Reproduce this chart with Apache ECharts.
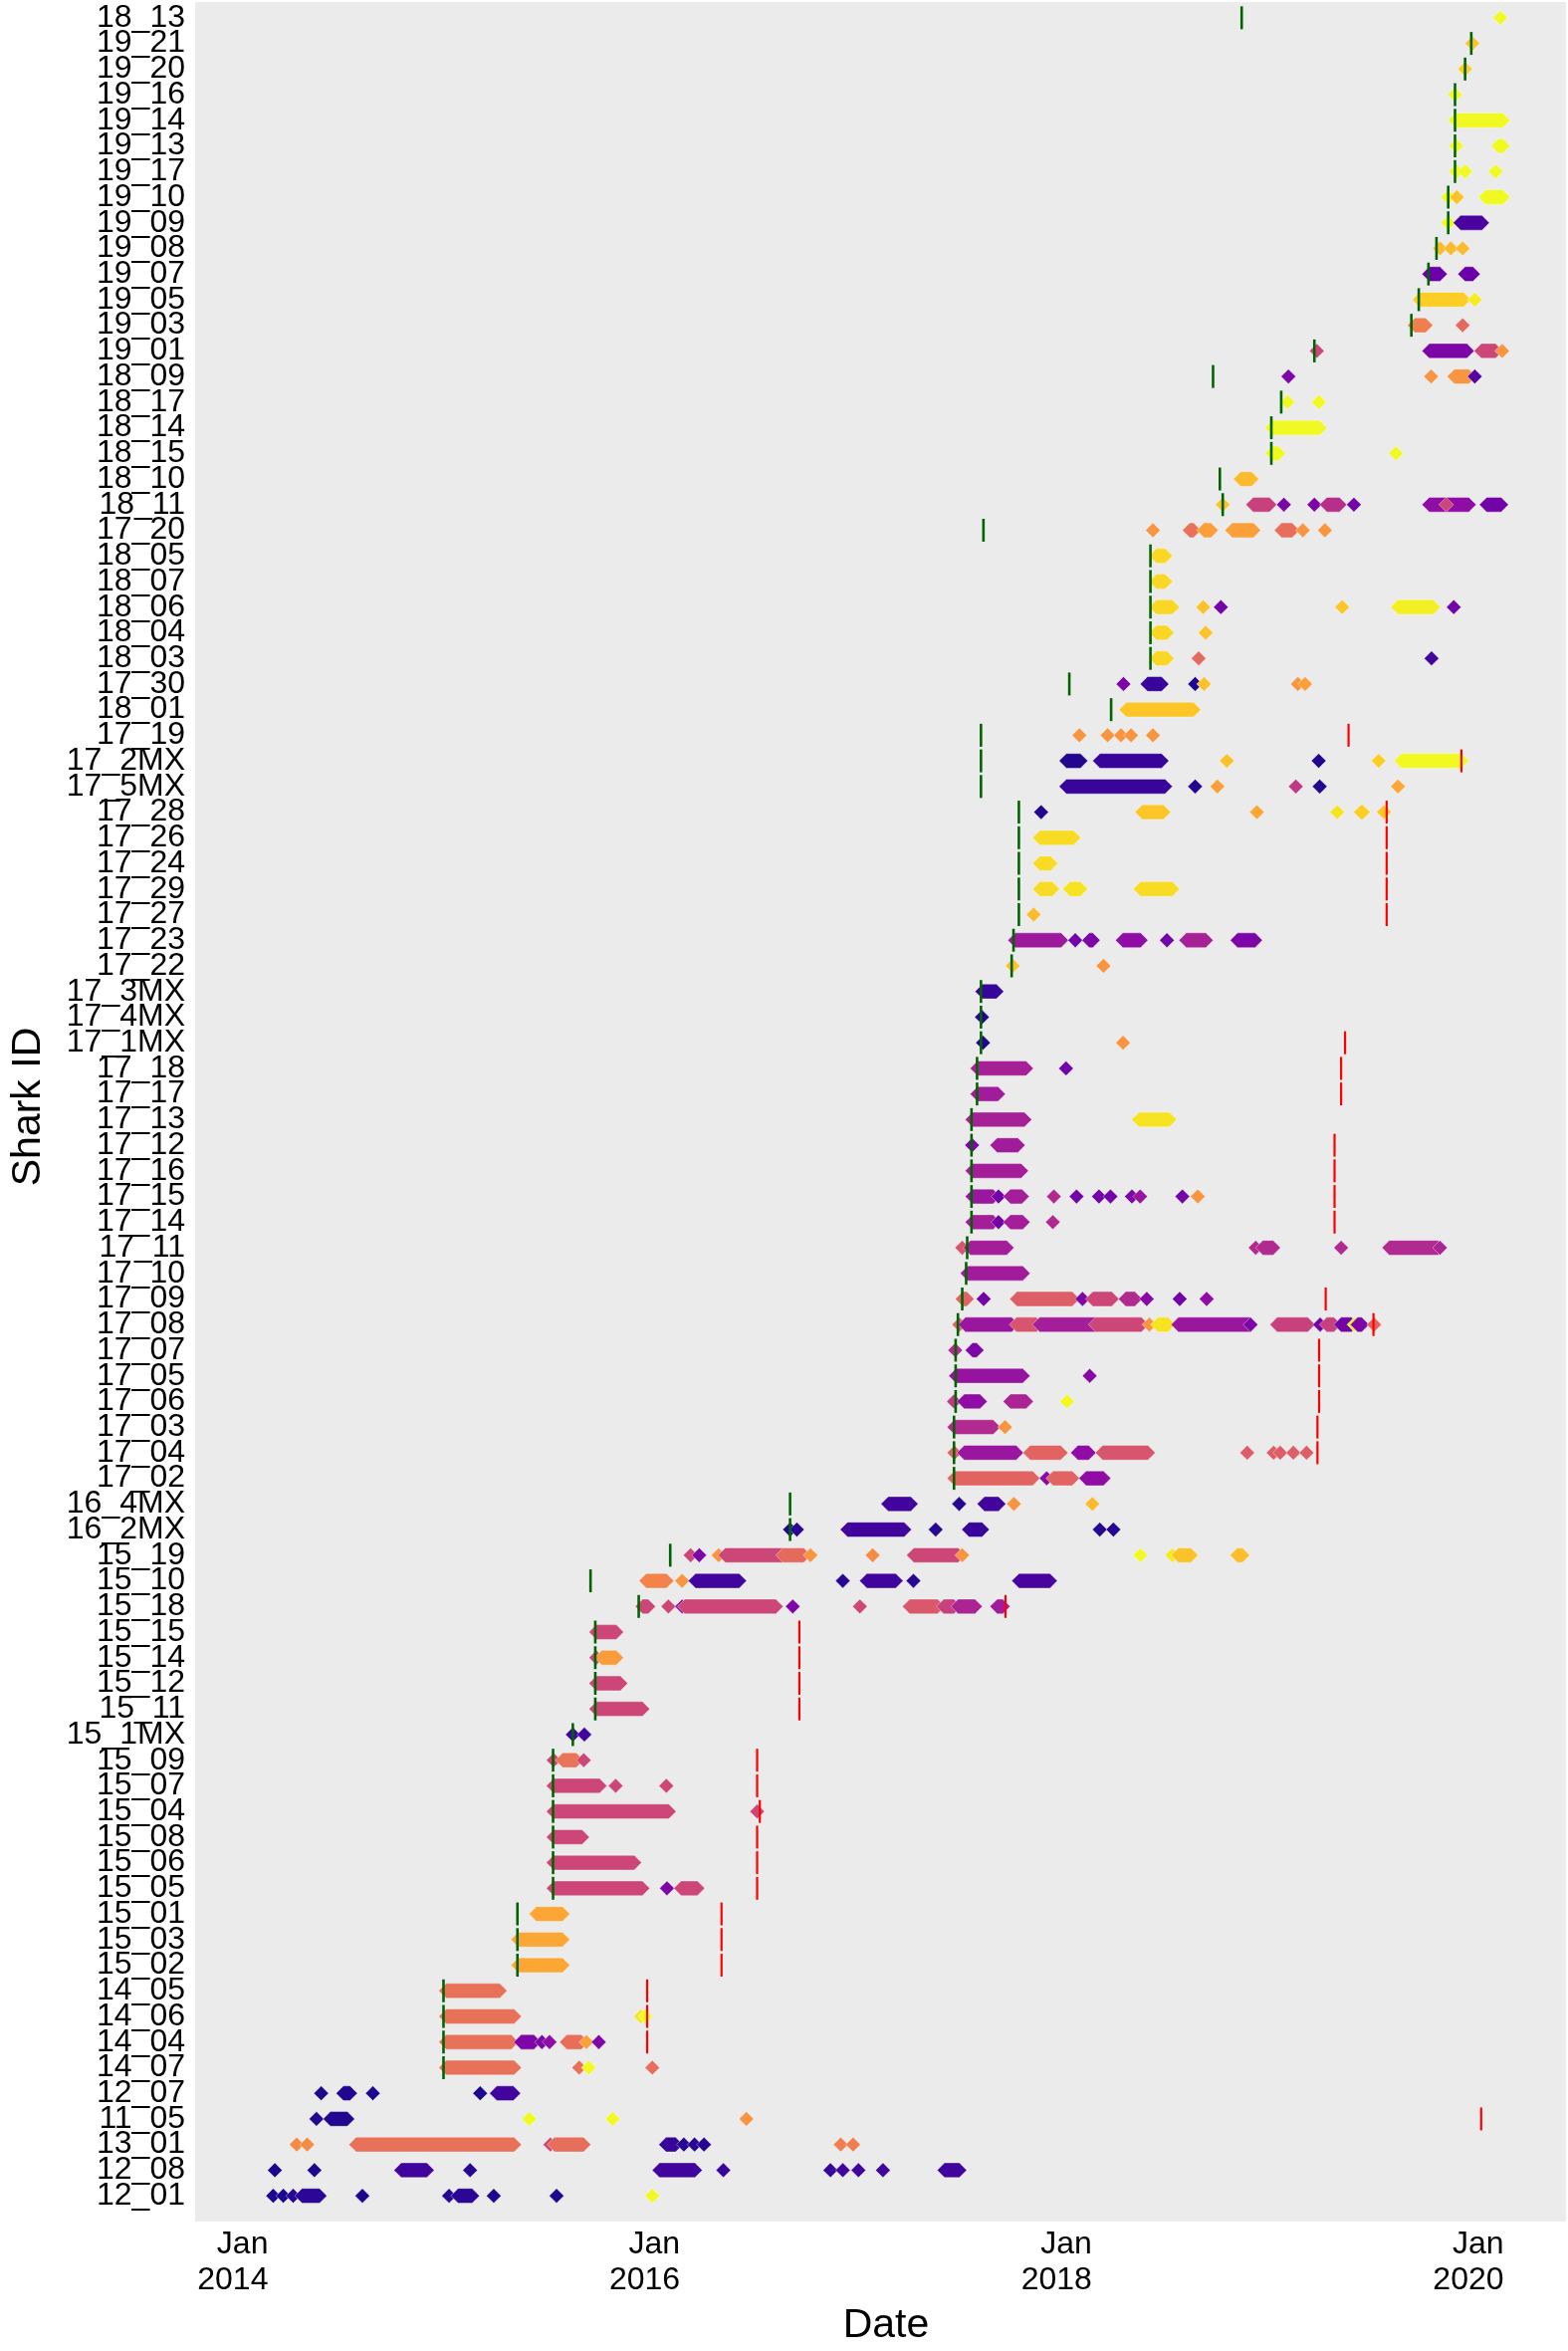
<!DOCTYPE html>
<html>
<head>
<meta charset="utf-8">
<script src="https://cdn.jsdelivr.net/npm/echarts@6/dist/echarts.min.js"></script>
<style>
  html, body { margin: 0; padding: 0; background: #fff; }
  #chart { width: 1575px; height: 2361px; }
</style>
</head>
<body>
<div id="chart"></div>
<script>
// shark ids, bottom row first
const sharkIds = [
  '12_01', '12_08', '13_01', '11_05', '12_07', '14_07', '14_04', '14_06', '14_05',
  '15_02', '15_03', '15_01', '15_05', '15_06', '15_08', '15_04', '15_07', '15_09',
  '15_1MX', '15_11', '15_12', '15_14', '15_15', '15_18', '15_10', '15_19',
  '16_2MX', '16_4MX', '17_02', '17_04', '17_03', '17_06', '17_05', '17_07', '17_08',
  '17_09', '17_10', '17_11', '17_14', '17_15', '17_16', '17_12', '17_13', '17_17',
  '17_18', '17_1MX', '17_4MX', '17_3MX', '17_22', '17_23', '17_27', '17_29', '17_24',
  '17_26', '17_28', '17_5MX', '17_2MX', '17_19', '18_01', '17_30', '18_03', '18_04',
  '18_06', '18_07', '18_05', '17_20', '18_11', '18_10', '18_15', '18_14', '18_17',
  '18_09', '19_01', '19_03', '19_05', '19_07', '19_08', '19_09', '19_10', '19_17',
  '19_13', '19_14', '19_16', '19_20', '19_21', '18_13'
];

const tickYears = [2014, 2016, 2018, 2020];

// plasma palette
const plasma = ['#0d0887', '#41049d', '#6a00a8', '#8f0da4', '#b12a90', '#cc4778',
  '#e16462', '#f2844b', '#fca636', '#fcce25', '#f0f921'];

// detections: [shark, first date, last date, colour value 0..1] (dates in decimal years)
const detections = [
  ['12_01', 2014.024, 2014.024, .03], ['12_01', 2014.073, 2014.073, .03], ['12_01', 2014.121, 2014.121, .05],
  ['12_01', 2014.164, 2014.249, .06], ['12_01', 2014.457, 2014.457, .03], ['12_01', 2014.878, 2014.878, .05],
  ['12_01', 2014.922, 2014.990, .06], ['12_01', 2015.095, 2015.095, .03], ['12_01', 2015.400, 2015.400, .03],
  ['12_01', 2015.865, 2015.865, 1],
  ['12_08', 2014.032, 2014.032, .03], ['12_08', 2014.224, 2014.224, .03], ['12_08', 2014.646, 2014.770, .1],
  ['12_08', 2014.980, 2014.980, .05], ['12_08', 2015.900, 2016.072, .1], ['12_08', 2016.210, 2016.210, .08],
  ['12_08', 2016.730, 2016.730, .08], ['12_08', 2016.790, 2016.790, .1], ['12_08', 2016.866, 2016.866, .1],
  ['12_08', 2016.985, 2016.985, .1], ['12_08', 2017.284, 2017.356, .1],
  ['13_01', 2014.138, 2014.138, .72], ['13_01', 2014.189, 2014.189, .72], ['13_01', 2014.427, 2015.194, .64],
  ['13_01', 2015.370, 2015.370, .5], ['13_01', 2015.390, 2015.531, .63], ['13_01', 2015.932, 2015.978, .08],
  ['13_01', 2016.018, 2016.018, .05], ['13_01', 2016.070, 2016.070, .05], ['13_01', 2016.116, 2016.116, .05],
  ['13_01', 2016.780, 2016.780, .68], ['13_01', 2016.840, 2016.840, .68],
  ['11_05', 2014.234, 2014.234, .04], ['11_05', 2014.302, 2014.384, .04], ['11_05', 2015.268, 2015.268, 1],
  ['11_05', 2015.672, 2015.672, 1], ['11_05', 2016.322, 2016.322, .75],
  ['12_07', 2014.257, 2014.257, .03], ['12_07', 2014.365, 2014.397, .04], ['12_07', 2014.508, 2014.508, .03],
  ['12_07', 2015.029, 2015.029, .03], ['12_07', 2015.110, 2015.190, .1],
  ['14_07', 2014.864, 2015.194, .64], ['14_07', 2015.510, 2015.510, .64], ['14_07', 2015.556, 2015.556, 1],
  ['14_07', 2015.865, 2015.865, .63],
  ['14_04', 2014.864, 2015.180, .64], ['14_04', 2015.228, 2015.290, .25], ['14_04', 2015.329, 2015.329, .25],
  ['14_04', 2015.366, 2015.366, .3], ['14_04', 2015.450, 2015.520, .63], ['14_04', 2015.545, 2015.545, .78],
  ['14_04', 2015.605, 2015.605, .25],
  ['14_06', 2014.864, 2015.194, .64], ['14_06', 2015.810, 2015.810, .95], ['14_06', 2015.830, 2015.830, 1],
  ['14_05', 2014.864, 2015.124, .64],
  ['15_02', 2015.214, 2015.429, .8], ['15_03', 2015.214, 2015.429, .8], ['15_01', 2015.302, 2015.429, .8],
  ['15_05', 2015.386, 2015.817, .5], ['15_05', 2015.936, 2015.936, .25], ['15_05', 2016.005, 2016.084, .5],
  ['15_06', 2015.386, 2015.777, .5], ['15_08', 2015.386, 2015.524, .5],
  ['15_04', 2015.386, 2015.945, .5], ['15_04', 2016.374, 2016.374, .5],
  ['15_07', 2015.386, 2015.609, .5], ['15_07', 2015.687, 2015.687, .5], ['15_07', 2015.933, 2015.933, .5],
  ['15_09', 2015.386, 2015.386, .5], ['15_09', 2015.430, 2015.496, .65], ['15_09', 2015.532, 2015.532, .5],
  ['15_1MX', 2015.479, 2015.479, .1], ['15_1MX', 2015.535, 2015.535, .1],
  ['15_11', 2015.593, 2015.817, .5], ['15_12', 2015.593, 2015.710, .5],
  ['15_14', 2015.593, 2015.593, .5], ['15_14', 2015.620, 2015.690, .77], ['15_15', 2015.593, 2015.690, .5],
  ['15_18', 2015.818, 2015.845, .5], ['15_18', 2015.943, 2015.943, .5], ['15_18', 2016.010, 2016.010, .3],
  ['15_18', 2016.023, 2016.465, .5], ['15_18', 2016.547, 2016.547, .25], ['15_18', 2016.873, 2016.873, .5],
  ['15_18', 2017.115, 2017.250, .56], ['15_18', 2017.280, 2017.330, .48], ['15_18', 2017.350, 2017.432, .38],
  ['15_18', 2017.540, 2017.567, .35],
  ['15_10', 2015.836, 2015.934, .7], ['15_10', 2016.010, 2016.010, .75], ['15_10', 2016.075, 2016.287, .1],
  ['15_10', 2016.790, 2016.790, .05], ['15_10', 2016.907, 2017.047, .1], ['15_10', 2017.133, 2017.133, .05],
  ['15_10', 2017.646, 2017.796, .12],
  ['15_19', 2016.051, 2016.051, .5], ['15_19', 2016.093, 2016.093, .25], ['15_19', 2016.187, 2016.187, .75],
  ['15_19', 2016.220, 2016.500, .5], ['15_19', 2016.500, 2016.600, .62], ['15_19', 2016.633, 2016.633, .75],
  ['15_19', 2016.935, 2016.935, .72], ['15_19', 2017.135, 2017.350, .5], ['15_19', 2017.370, 2017.370, .75],
  ['15_19', 2018.235, 2018.235, 1], ['15_19', 2018.390, 2018.390, .97], ['15_19', 2018.420, 2018.480, .87],
  ['15_19', 2018.706, 2018.731, .86],
  ['16_2MX', 2016.534, 2016.534, .03], ['16_2MX', 2016.567, 2016.567, .05], ['16_2MX', 2016.813, 2017.088, .1],
  ['16_2MX', 2017.241, 2017.241, .05], ['16_2MX', 2017.403, 2017.466, .08], ['16_2MX', 2018.038, 2018.038, .05],
  ['16_2MX', 2018.104, 2018.104, .05],
  ['16_4MX', 2017.011, 2017.120, .1], ['16_4MX', 2017.355, 2017.355, .05], ['16_4MX', 2017.478, 2017.546, .1],
  ['16_4MX', 2017.621, 2017.621, .75], ['16_4MX', 2018.002, 2018.002, .85],
  ['17_02', 2017.332, 2017.712, .6], ['17_02', 2017.780, 2017.780, .28], ['17_02', 2017.812, 2017.904, .6],
  ['17_02', 2017.972, 2018.056, .3],
  ['17_04', 2017.332, 2017.332, .58], ['17_04', 2017.380, 2017.632, .33], ['17_04', 2017.700, 2017.848, .6],
  ['17_04', 2017.932, 2017.984, .3], ['17_04', 2018.052, 2018.272, .55], ['17_04', 2018.754, 2018.754, .58],
  ['17_04', 2018.882, 2018.882, .58], ['17_04', 2018.914, 2018.914, .58], ['17_04', 2018.978, 2018.978, .58],
  ['17_04', 2019.042, 2019.042, .58],
  ['17_03', 2017.332, 2017.520, .4], ['17_03', 2017.578, 2017.578, .75],
  ['17_06', 2017.330, 2017.330, .45], ['17_06', 2017.380, 2017.456, .3], ['17_06', 2017.604, 2017.680, .38],
  ['17_06', 2017.879, 2017.879, 1],
  ['17_05', 2017.340, 2017.664, .32], ['17_05', 2017.989, 2017.989, .28],
  ['17_07', 2017.336, 2017.336, .4], ['17_07', 2017.420, 2017.440, .25],
  ['17_08', 2017.356, 2017.356, .6], ['17_08', 2017.386, 2017.610, .33], ['17_08', 2017.634, 2017.730, .55],
  ['17_08', 2017.746, 2018.018, .36], ['17_08', 2018.018, 2018.240, .5], ['17_08', 2018.279, 2018.279, .75],
  ['17_08', 2018.320, 2018.370, .95], ['17_08', 2018.420, 2018.768, .33], ['17_08', 2018.770, 2018.770, .25],
  ['17_08', 2018.900, 2019.048, .48], ['17_08', 2019.108, 2019.108, .22], ['17_08', 2019.140, 2019.175, .48],
  ['17_08', 2019.210, 2019.260, .22], ['17_08', 2019.274, 2019.274, 1], ['17_08', 2019.290, 2019.310, .25],
  ['17_08', 2019.370, 2019.370, .6],
  ['17_09', 2017.372, 2017.392, .6], ['17_09', 2017.474, 2017.474, .22], ['17_09', 2017.636, 2017.904, .58],
  ['17_09', 2017.954, 2017.954, .25], ['17_09', 2018.004, 2018.096, .5], ['17_09', 2018.164, 2018.208, .4],
  ['17_09', 2018.266, 2018.266, .28], ['17_09', 2018.426, 2018.426, .22], ['17_09', 2018.557, 2018.557, .3],
  ['17_10', 2017.396, 2017.664, .35],
  ['17_11', 2017.370, 2017.370, .55], ['17_11', 2017.410, 2017.586, .36], ['17_11', 2018.795, 2018.795, .4],
  ['17_11', 2018.830, 2018.880, .4], ['17_11', 2019.210, 2019.210, .4], ['17_11', 2019.444, 2019.680, .4],
  ['17_11', 2019.690, 2019.690, .38],
  ['17_14', 2017.420, 2017.520, .36], ['17_14', 2017.546, 2017.546, .22], ['17_14', 2017.604, 2017.664, .36],
  ['17_14', 2017.810, 2017.810, .4],
  ['17_15', 2017.420, 2017.520, .33], ['17_15', 2017.546, 2017.546, .22], ['17_15', 2017.604, 2017.660, .36],
  ['17_15', 2017.815, 2017.815, .4], ['17_15', 2017.925, 2017.925, .22], ['17_15', 2018.034, 2018.034, .22],
  ['17_15', 2018.090, 2018.090, .22], ['17_15', 2018.194, 2018.194, .25], ['17_15', 2018.234, 2018.234, .33],
  ['17_15', 2018.439, 2018.439, .22], ['17_15', 2018.514, 2018.514, .75],
  ['17_16', 2017.420, 2017.656, .36],
  ['17_12', 2017.418, 2017.418, .25], ['17_12', 2017.540, 2017.640, .35],
  ['17_13', 2017.420, 2017.672, .37], ['17_13', 2018.228, 2018.376, .95],
  ['17_17', 2017.444, 2017.544, .35],
  ['17_18', 2017.444, 2017.680, .37], ['17_18', 2017.874, 2017.874, .22],
  ['17_1MX', 2017.471, 2017.471, .04], ['17_1MX', 2018.151, 2018.151, .75],
  ['17_4MX', 2017.466, 2017.466, .04],
  ['17_3MX', 2017.468, 2017.536, .08],
  ['17_22', 2017.615, 2017.615, .87], ['17_22', 2018.056, 2018.056, .75],
  ['17_23', 2017.627, 2017.850, .34], ['17_23', 2017.919, 2017.919, .22], ['17_23', 2017.987, 2018.004, .25],
  ['17_23', 2018.150, 2018.236, .3], ['17_23', 2018.364, 2018.364, .22], ['17_23', 2018.458, 2018.553, .37],
  ['17_23', 2018.707, 2018.792, .25],
  ['17_27', 2017.717, 2017.717, .85],
  ['17_29', 2017.747, 2017.807, .93], ['17_29', 2017.893, 2017.944, .95], ['17_29', 2018.236, 2018.390, .93],
  ['17_24', 2017.747, 2017.799, .93],
  ['17_26', 2017.747, 2017.910, .93],
  ['17_28', 2017.753, 2017.753, .04], ['17_28', 2018.244, 2018.347, .88], ['17_28', 2018.801, 2018.801, .8],
  ['17_28', 2019.191, 2019.191, .95], ['17_28', 2019.306, 2019.315, .9], ['17_28', 2019.418, 2019.418, .88],
  ['17_5MX', 2017.876, 2018.355, .08], ['17_5MX', 2018.501, 2018.501, .04], ['17_5MX', 2018.609, 2018.609, .78],
  ['17_5MX', 2018.990, 2018.990, .45], ['17_5MX', 2019.106, 2019.106, .04], ['17_5MX', 2019.486, 2019.486, .8],
  ['17_2MX', 2017.876, 2017.944, .04], ['17_2MX', 2018.039, 2018.338, .08], ['17_2MX', 2018.655, 2018.655, .87],
  ['17_2MX', 2019.101, 2019.101, .04], ['17_2MX', 2019.392, 2019.392, .9], ['17_2MX', 2019.503, 2019.794, 1],
  ['17_19', 2017.939, 2017.939, .75], ['17_19', 2018.076, 2018.076, .75], ['17_19', 2018.141, 2018.141, .75],
  ['17_19', 2018.190, 2018.190, .75], ['17_19', 2018.296, 2018.296, .75],
  ['18_01', 2018.167, 2018.493, .88],
  ['17_30', 2018.153, 2018.153, .25], ['17_30', 2018.270, 2018.338, .08], ['17_30', 2018.501, 2018.501, .04],
  ['17_30', 2018.544, 2018.544, .87], ['17_30', 2019.000, 2019.000, .75], ['17_30', 2019.035, 2019.035, .78],
  ['18_03', 2018.313, 2018.364, .92], ['18_03', 2018.518, 2018.518, .62], ['18_03', 2019.649, 2019.649, .1],
  ['18_04', 2018.313, 2018.364, .92], ['18_04', 2018.552, 2018.552, .87],
  ['18_06', 2018.313, 2018.390, .92], ['18_06', 2018.540, 2018.540, .87], ['18_06', 2018.626, 2018.626, .22],
  ['18_06', 2019.215, 2019.215, .88], ['18_06', 2019.486, 2019.657, .98], ['18_06', 2019.757, 2019.757, .22],
  ['18_07', 2018.313, 2018.356, .92],
  ['18_05', 2018.313, 2018.356, .92],
  ['17_20', 2018.296, 2018.296, .75], ['17_20', 2018.475, 2018.493, .64], ['17_20', 2018.544, 2018.578, .78],
  ['17_20', 2018.681, 2018.784, .78], ['17_20', 2018.921, 2018.972, .63], ['17_20', 2019.024, 2019.024, .75],
  ['17_20', 2019.131, 2019.131, .75],
  ['18_11', 2018.635, 2018.635, .87], ['18_11', 2018.783, 2018.862, .48], ['18_11', 2018.932, 2018.932, .25],
  ['18_11', 2019.080, 2019.080, .25], ['18_11', 2019.141, 2019.202, .42], ['18_11', 2019.272, 2019.272, .22],
  ['18_11', 2019.638, 2019.830, .3], ['18_11', 2019.720, 2019.720, .5], ['18_11', 2019.917, 2019.987, .22],
  ['18_10', 2018.722, 2018.775, .85],
  ['18_15', 2018.876, 2018.905, 1], ['18_15', 2019.476, 2019.476, 1],
  ['18_14', 2018.876, 2019.106, 1],
  ['18_17', 2018.949, 2018.949, 1], ['18_17', 2019.102, 2019.102, 1],
  ['18_09', 2018.954, 2018.954, .25], ['18_09', 2019.647, 2019.647, .75], ['18_09', 2019.760, 2019.830, .75],
  ['18_09', 2019.859, 2019.859, .15],
  ['19_01', 2019.092, 2019.092, .5], ['19_01', 2019.638, 2019.821, .25], ['19_01', 2019.891, 2019.960, .5],
  ['19_01', 2019.992, 2019.992, .75],
  ['19_03', 2019.568, 2019.620, .68], ['19_03', 2019.800, 2019.800, .62],
  ['19_05', 2019.591, 2019.804, .9], ['19_05', 2019.859, 2019.859, .97],
  ['19_07', 2019.638, 2019.690, .2], ['19_07', 2019.812, 2019.850, .2],
  ['19_08', 2019.690, 2019.690, .85], ['19_08', 2019.743, 2019.743, .85], ['19_08', 2019.800, 2019.800, .85],
  ['19_09', 2019.730, 2019.730, 1], ['19_09', 2019.790, 2019.894, .12],
  ['19_10', 2019.730, 2019.730, 1], ['19_10', 2019.772, 2019.772, .87], ['19_10', 2019.912, 2019.995, 1],
  ['19_17', 2019.769, 2019.769, 1], ['19_17', 2019.812, 2019.812, 1], ['19_17', 2019.961, 2019.961, 1],
  ['19_13', 2019.769, 2019.769, 1], ['19_13', 2019.974, 2019.995, 1],
  ['19_14', 2019.765, 2019.995, 1],
  ['19_16', 2019.763, 2019.763, 1],
  ['19_20', 2019.812, 2019.812, .9],
  ['19_21', 2019.847, 2019.847, .87],
  ['18_13', 2019.983, 2019.983, 1]
];

// tagging dates (green marks)
const tagDates = [
  ['14_07', 2014.851], ['14_04', 2014.851], ['14_06', 2014.851], ['14_05', 2014.851],
  ['15_02', 2015.21], ['15_03', 2015.21], ['15_01', 2015.21],
  ['15_05', 2015.383], ['15_06', 2015.383], ['15_08', 2015.383], ['15_04', 2015.383], ['15_07', 2015.383], ['15_09', 2015.383],
  ['15_1MX', 2015.479], ['15_11', 2015.588], ['15_12', 2015.588], ['15_14', 2015.588], ['15_15', 2015.588],
  ['15_18', 2015.799], ['15_10', 2015.565], ['15_19', 2015.952], ['16_2MX', 2016.534], ['16_4MX', 2016.534],
  ['17_02', 2017.33], ['17_04', 2017.33], ['17_03', 2017.33], ['17_06', 2017.338], ['17_05', 2017.338], ['17_07', 2017.338],
  ['17_08', 2017.349], ['17_09', 2017.37], ['17_10', 2017.389], ['17_11', 2017.394],
  ['17_14', 2017.415], ['17_15', 2017.415], ['17_16', 2017.415], ['17_12', 2017.415], ['17_13', 2017.415],
  ['17_17', 2017.442], ['17_18', 2017.442], ['17_1MX', 2017.461], ['17_4MX', 2017.461], ['17_3MX', 2017.461],
  ['17_22', 2017.61], ['17_23', 2017.619],
  ['17_27', 2017.645], ['17_29', 2017.645], ['17_24', 2017.645], ['17_26', 2017.645], ['17_28', 2017.645],
  ['17_5MX', 2017.461], ['17_2MX', 2017.461], ['17_19', 2017.461], ['18_01', 2018.093], ['17_30', 2017.89],
  ['18_03', 2018.284], ['18_04', 2018.284], ['18_06', 2018.284], ['18_07', 2018.284], ['18_05', 2018.284],
  ['17_20', 2017.473], ['18_11', 2018.635], ['18_10', 2018.621], ['18_15', 2018.871], ['18_14', 2018.871],
  ['18_17', 2018.919], ['18_09', 2018.588], ['19_01', 2019.08], ['19_03', 2019.551], ['19_05', 2019.587],
  ['19_07', 2019.634], ['19_08', 2019.673], ['19_09', 2019.73], ['19_10', 2019.73],
  ['19_17', 2019.763], ['19_13', 2019.763], ['19_14', 2019.763], ['19_16', 2019.763],
  ['19_20', 2019.812], ['19_21', 2019.842], ['18_13', 2018.727]
];

// end of tag life (red marks)
const endDates = [
  ['11_05', 2019.89], ['14_04', 2015.84], ['14_06', 2015.84], ['14_05', 2015.84],
  ['15_02', 2016.201], ['15_03', 2016.201], ['15_01', 2016.201],
  ['15_05', 2016.374], ['15_06', 2016.374], ['15_08', 2016.374], ['15_04', 2016.387], ['15_07', 2016.374], ['15_09', 2016.374],
  ['15_11', 2016.579], ['15_12', 2016.579], ['15_14', 2016.579], ['15_15', 2016.579], ['15_18', 2017.58],
  ['17_04', 2019.095], ['17_03', 2019.095], ['17_06', 2019.103], ['17_05', 2019.103], ['17_07', 2019.103],
  ['17_08', 2019.367], ['17_09', 2019.135],
  ['17_14', 2019.178], ['17_15', 2019.178], ['17_16', 2019.178], ['17_12', 2019.178],
  ['17_17', 2019.21], ['17_18', 2019.21], ['17_1MX', 2019.229],
  ['17_27', 2019.431], ['17_29', 2019.431], ['17_24', 2019.431], ['17_26', 2019.431], ['17_28', 2019.431],
  ['17_2MX', 2019.794], ['17_19', 2019.246]
];

const font = 'Liberation Sans, Arial, Helvetica, sans-serif';
const rowOf = (id) => sharkIds.indexOf(id);

const chart = echarts.init(document.getElementById('chart'), null, { renderer: 'canvas' });

// detection run: diamond at each end joined by a bar of the same height
const renderRun = (params, api) => {
  const row = api.value(0);
  const a = api.coord([api.value(1), row]);
  const b = api.coord([api.value(2), row]);
  const h = 7.4;
  return {
    type: 'polygon',
    shape: {
      points: [[a[0] - h, a[1]], [a[0], a[1] - h], [b[0], b[1] - h],
        [b[0] + h, b[1]], [b[0], b[1] + h], [a[0], a[1] + h]]
    },
    style: { fill: api.visual('color'), stroke: 'rgba(255,255,255,0.55)', lineWidth: 0.7 }
  };
};

const renderMark = (color, width) => (params, api) => {
  const p = api.coord([api.value(1), api.value(0)]);
  const half = 11.5;
  return {
    type: 'line',
    shape: { x1: p[0], y1: p[1] - half, x2: p[0], y2: p[1] + half },
    style: { stroke: color, lineWidth: width }
  };
};

chart.setOption({
  animation: false,
  backgroundColor: '#ffffff',
  graphic: [{
    type: 'rect', left: 196, top: 2, z: -10,
    shape: { width: 1377, height: 2229 },
    style: { fill: '#ebebeb' }
  }],
  grid: { left: 196, right: 2, top: 5, bottom: 133, containLabel: false },
  xAxis: {
    type: 'value',
    min: 2013.698,
    max: 2020.302,
    offset: 3,
    axisLine: { show: false },
    splitLine: { show: false },
    axisTick: { customValues: tickYears, length: 11, lineStyle: { color: '#333', width: 3 } },
    axisLabel: {
      customValues: tickYears,
      formatter: (v) => 'Jan\n' + v,
      align: 'right',
      fontSize: 32, lineHeight: 36, margin: 15,
      color: '#000', fontFamily: font
    },
    name: 'Date', nameLocation: 'middle', nameGap: 94,
    nameTextStyle: { fontSize: 41, color: '#000', fontFamily: font }
  },
  yAxis: {
    type: 'category',
    data: sharkIds,
    axisLine: { show: false },
    splitLine: { show: false },
    axisTick: { alignWithLabel: true, length: 10, lineStyle: { color: '#333', width: 3 } },
    axisLabel: { interval: 0, fontSize: 32, margin: 21, color: '#000', fontFamily: font },
    name: 'Shark ID', nameLocation: 'middle', nameGap: 158,
    nameTextStyle: { fontSize: 41, color: '#000', fontFamily: font }
  },
  visualMap: {
    show: false, type: 'continuous', min: 0, max: 1, dimension: 3, seriesIndex: 0,
    inRange: { color: plasma }
  },
  series: [
    {
      type: 'custom',
      renderItem: renderRun,
      encode: { x: [1, 2], y: 0 },
      data: detections.map((d) => [rowOf(d[0]), d[1], d[2], d[3]]),
      z: 2
    },
    {
      type: 'custom',
      renderItem: renderMark('#006400', 2.6),
      encode: { x: 1, y: 0 },
      data: tagDates.map((d) => [rowOf(d[0]), d[1]]),
      z: 3
    },
    {
      type: 'custom',
      renderItem: renderMark('#ff0000', 2.2),
      encode: { x: 1, y: 0 },
      data: endDates.map((d) => [rowOf(d[0]), d[1]]),
      z: 4
    }
  ]
});
</script>
</body>
</html>
